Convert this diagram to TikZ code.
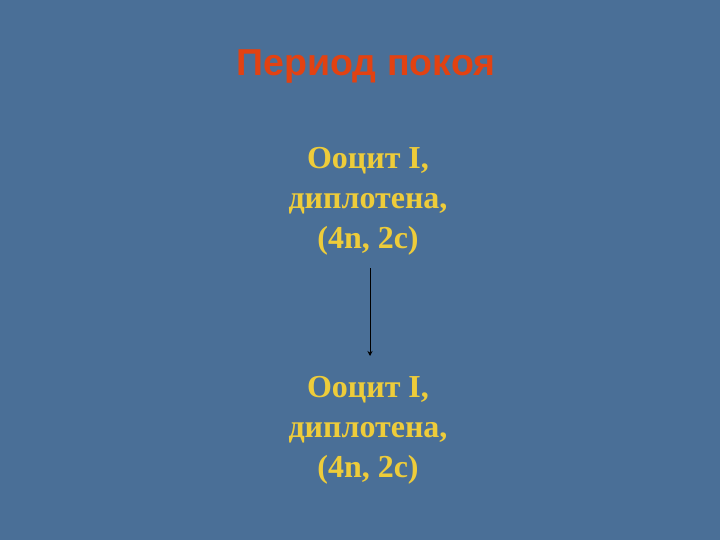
\documentclass[tikz,border=0pt]{standalone}
\usepackage{fontspec}
\setmainfont{Liberation Serif}
\newfontfamily\titlefont{Liberation Sans}
\usetikzlibrary{arrows.meta}
\definecolor{slide}{RGB}{74,111,151}
\definecolor{titlered}{RGB}{226,66,18}
\definecolor{cellyellow}{RGB}{238,204,58}

\begin{document}
\begin{tikzpicture}
  [x=1pt,y=-1pt,
   title/.style={text=titlered,font=\titlefont\bfseries\fontsize{37.5}{44}\selectfont},
   cell/.style={text=cellyellow,align=center,font=\bfseries\fontsize{32}{40}\selectfont}]
  \fill[slide] (0,0) rectangle (720,540);
  \useasboundingbox (0,0) rectangle (720,540);
  \node[title] (head) at (366,66) {Период покоя};
  \node[cell] (top) at (368,201) {Ооцит I,\\диплотена,\\(4n, 2c)};
  \node[cell] (bottom) at (368,430) {Ооцит I,\\диплотена,\\(4n, 2c)};
  \coordinate (start) at (370,268);
  \coordinate (stop) at (370,356);
  \draw[black,line width=0.8pt,-{Stealth[length=5pt,width=5pt]}] (start) -- (stop);
\end{tikzpicture}
\end{document}
